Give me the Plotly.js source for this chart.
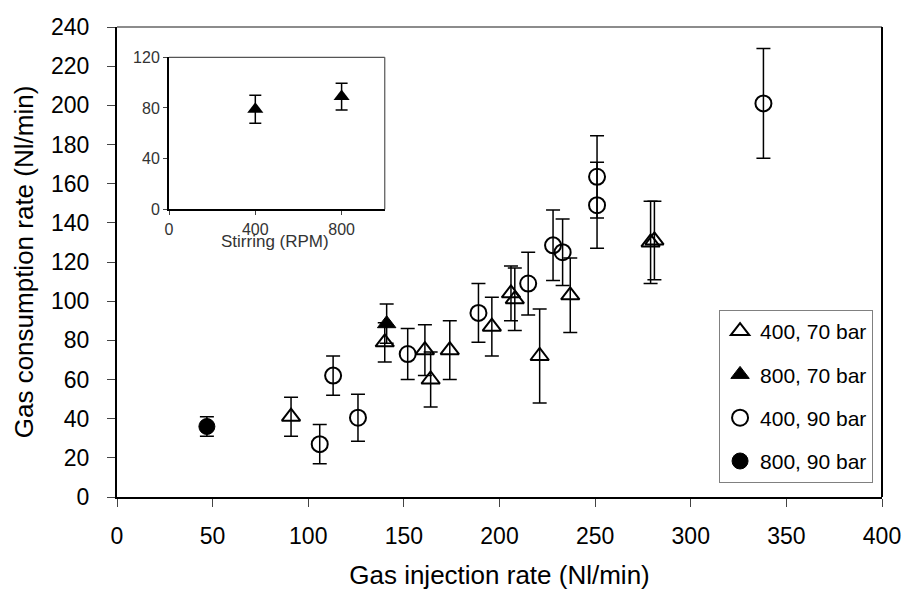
<!DOCTYPE html>
<html>
<head>
<meta charset="utf-8">
<script src="https://cdn.plot.ly/plotly-3.0.1.min.js"></script>
<style>html,body{margin:0;padding:0;background:#fff;}#chart{width:906px;height:592px;}</style>
</head>
<body>
<div id="chart"></div>
<script>
// Series: 400 rpm, 70 bar (open triangles)
const x400_70 = [91, 140, 161, 164, 174, 196, 206, 208, 221, 237, 279, 281];
const y400_70 = [41, 79, 75, 60, 75, 87, 104, 101, 72, 103, 130, 131];
const e400_70 = [10, 10, 13, 14, 15, 15, 14, 16, 24, 19, 21, 20];
// 800 rpm, 70 bar (filled triangle)
const x800_70 = [141];
const y800_70 = [88.5];
const e800_70 = [10];
// 400 rpm, 90 bar (open circles)
const x400_90 = [106, 113, 126, 152, 189, 215, 228, 233, 251, 251, 338];
const y400_90 = [27, 62, 40.5, 73, 94, 109, 128.5, 125, 163.5, 149, 201];
const e400_90 = [10, 10, 12, 13, 15, 16, 18, 17, 21, 22, 28];
// 800 rpm, 90 bar (filled circle)
const x800_90 = [47];
const y800_90 = [36];
const e800_90 = [5];
// Inset: stirring
const xStir = [400, 800];
const yStir = [79, 89];
const eStir = [11, 10.5];

const names = ["400, 70 bar", "800, 70 bar", "400, 90 bar", "800, 90 bar"];
const mainTicksX = [0, 50, 100, 150, 200, 250, 300, 350, 400];
const mainTicksY = [0, 20, 40, 60, 80, 100, 120, 140, 160, 180, 200, 220, 240];
const insetTicksX = [0, 400, 800];
const insetTicksY = [0, 40, 80, 120];

function err(a){ return {type:'data', array:a, visible:true, color:'#000', thickness:1.5, width:7}; }

const traces = [
  {x:x400_70, y:y400_70, error_y:err(e400_70), name:names[0], mode:'markers', type:'scatter', legendgroup:'a',
   marker:{symbol:'triangle-up-open', size:16, color:'#000', line:{width:2, color:'#000'}}},
  {x:x800_70, y:y800_70, error_y:err(e800_70), name:names[1], mode:'markers', type:'scatter', legendgroup:'b',
   marker:{symbol:'triangle-up', size:16, color:'#000', line:{width:1, color:'#000'}}},
  {x:x400_90, y:y400_90, error_y:err(e400_90), name:names[2], mode:'markers', type:'scatter', legendgroup:'c',
   marker:{symbol:'circle-open', size:16, color:'#000', line:{width:2, color:'#000'}}},
  {x:x800_90, y:y800_90, error_y:err(e800_90), name:names[3], mode:'markers', type:'scatter', legendgroup:'d',
   marker:{symbol:'circle', size:16, color:'#000', line:{width:1, color:'#000'}}},
  {x:xStir, y:yStir, error_y:{type:'data', array:eStir, visible:true, color:'#000', thickness:1.5, width:6},
   xaxis:'x2', yaxis:'y2', mode:'markers', type:'scatter', showlegend:false,
   marker:{symbol:'triangle-up', size:14, color:'#000'}}
];

const axFont = {family:'"Liberation Sans", Arial, sans-serif', size:23, color:'#000'};
const inFont = {family:'"Liberation Sans Narrow", "Liberation Sans", sans-serif', size:16, color:'#333'};

const layout = {
  width:906, height:592,
  margin:{l:117, r:24, t:27, b:95},
  paper_bgcolor:'#fff', plot_bgcolor:'#fff',
  showlegend:true,
  legend:{x:0.787, y:0.398, xanchor:'left', yanchor:'top', bgcolor:'#fff',
    bordercolor:'#808080', borderwidth:1, tracegroupgap:13, traceorder:'grouped',
    font:{family:'"Liberation Sans", Arial, sans-serif', size:21, color:'#000'}},
  xaxis:{range:[0,400], tickvals:mainTicksX, ticktext:mainTicksX.map(String), showgrid:false, zeroline:false,
    showline:true, linecolor:'#000', linewidth:2, ticks:'outside', ticklen:8, tickcolor:'#444', tickwidth:1,
    ticklabelstandoff:9,
    tickfont:axFont, title:{text:'Gas injection rate (Nl/min)', font:{family:'"Liberation Sans", Arial, sans-serif', size:26, color:'#000'}, standoff:18}},
  yaxis:{range:[0,240], tickvals:mainTicksY, ticktext:mainTicksY.map(String), showgrid:false, zeroline:false,
    showline:true, linecolor:'#000', linewidth:2, ticks:'outside', ticklen:8, tickcolor:'#444', tickwidth:1,
    ticklabelstandoff:13,
    tickfont:axFont, title:{text:'Gas consumption rate (Nl/min)', font:{family:'"Liberation Sans", Arial, sans-serif', size:26, color:'#000'}, standoff:10}},
  xaxis2:{domain:[0.068,0.350], anchor:'y2', range:[0,1000], tickvals:insetTicksX, ticktext:insetTicksX.map(String),
    showgrid:false, zeroline:false, showline:true, linecolor:'#000', linewidth:2, ticks:'outside', ticklen:4,
    tickcolor:'#444', tickfont:inFont},
  yaxis2:{domain:[0.612,0.9355], anchor:'x2', range:[0,120], tickvals:insetTicksY, ticktext:insetTicksY.map(String),
    showgrid:false, zeroline:false, showline:true, linecolor:'#000', linewidth:2, ticks:'outside', ticklen:4,
    tickcolor:'#444', tickfont:inFont},
  annotations:[
    {text:'Stirring (RPM)', xref:'x2', yref:'paper', x:490, y:(497-241)/470, xanchor:'center', yanchor:'middle',
     showarrow:false, font:{family:'"Liberation Sans Narrow", "Liberation Sans", sans-serif', size:17, color:'#333'}}
  ],
  shapes:[
    {type:'line', xref:'paper', yref:'paper', x0:0, x1:1, y0:1, y1:1, line:{color:'#666', width:1.5}},
    {type:'line', xref:'paper', yref:'paper', x0:1, x1:1, y0:0, y1:1, line:{color:'#000', width:2}},
    {type:'line', xref:'x2 domain', yref:'y2 domain', x0:0, x1:1, y0:1, y1:1, line:{color:'#555', width:1.2}},
    {type:'line', xref:'x2 domain', yref:'y2 domain', x0:1, x1:1, y0:0, y1:1, line:{color:'#555', width:1.2}}
  ]
};

Plotly.newPlot('chart', traces, layout, {displayModeBar:false, staticPlot:true});
</script>
</body>
</html>
